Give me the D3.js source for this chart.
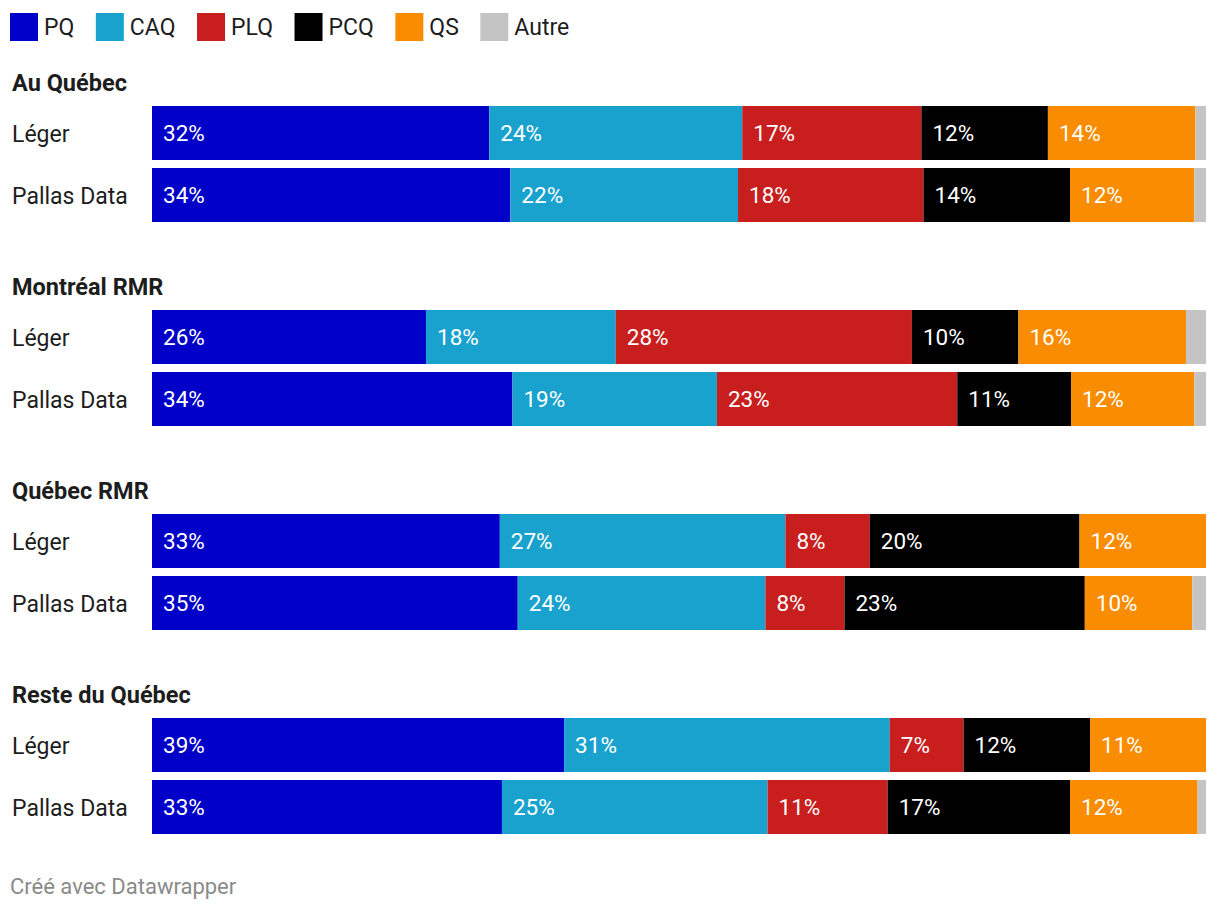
<!DOCTYPE html>
<html><head><meta charset="utf-8">
<script src="https://cdn.jsdelivr.net/npm/d3@7"></script>
<style>
html,body{margin:0;padding:0;background:#fff;}
svg{display:block;font-family:Roboto,"Noto Sans",sans-serif;}
</style></head>
<body><svg id="chart" width="1220" height="912"></svg>
<script>
const parties = ["PQ","CAQ","PLQ","PCQ","QS","Autre"];
const colors = ["#0000c8","#1aa2ce","#c81e1e","#000000","#f98c00","#c4c4c4"];
const groups = ["Au Québec","Montréal RMR","Québec RMR","Reste du Québec"];
const pollsters = ["Léger","Pallas Data"];
// values per group, per pollster: PQ, CAQ, PLQ, PCQ, QS, Autre
const auQuebec   = [[32,24,17,12,14,1],[34,21.6,17.6,13.9,11.8,1.1]];
const montreal   = [[26,18,28.1,10.1,15.9,1.9],[34.2,19.4,22.8,10.8,11.7,1.1]];
const quebecRmr  = [[33,27.1,8,19.9,12,0],[34.7,23.5,7.5,22.8,10.2,1.3]];
const reste      = [[39.1,30.9,7,12,11,0],[33.2,25.2,11.4,17.3,12.1,0.8]];
const groupValues = [auQuebec, montreal, quebecRmr, reste];
const footer = "Créé avec Datawrapper";

function draw() {
  const svg = d3.select("#chart");
  svg.selectAll("*").remove();
  const x = d3.scaleLinear().domain([0,100]).range([152,1206]);
  const gy = d3.scaleBand().domain(groups).range([58, 874]).paddingInner(0).paddingOuter(0);
  const color = d3.scaleOrdinal().domain(parties).range(colors);

  // Legend
  const leg = svg.append("g");
  let lx = 10;
  parties.forEach(p => {
    const g = leg.append("g").attr("transform", `translate(${lx},0)`);
    g.append("rect").attr("x",0).attr("y",13).attr("width",28).attr("height",28).attr("fill",color(p));
    const t = g.append("text").attr("x",34).attr("y",35).attr("font-size",23).attr("fill","#1d1d1d").text(p);
    lx += 34 + t.node().getComputedTextLength() + 21.5;
  });

  groups.forEach((gname, gi) => {
    const g0 = gy(gname);
    const g = svg.append("g").attr("transform", `translate(0,${g0})`);
    g.append("text").attr("x",12).attr("y",32.7).attr("font-size",23.5).attr("font-weight",700)
      .attr("fill","#1d1d1d").text(gname);
    const ry = d3.scaleBand().domain(pollsters).range([48, 164]).paddingInner(8/62).paddingOuter(0);
    pollsters.forEach((pn, pi) => {
      const vals = groupValues[gi][pi];
      const row = g.append("g").attr("transform", `translate(0,${ry(pn)})`);
      const h = ry.bandwidth();
      row.append("text").attr("x",12).attr("y",h/2+9).attr("font-size",23).attr("fill","#1d1d1d").text(pn);
      let cum = 0;
      const segs = vals.map((v,i) => { const s = {p:parties[i], v, x0:cum, x1:cum+v}; cum += v; return s; });
      row.selectAll("rect.seg").data(segs).join("rect").attr("class","seg")
        .attr("x", d => x(d.x0)).attr("y",0).attr("width", d => Math.max(0, x(d.x1)-x(d.x0))).attr("height",h)
        .attr("fill", d => color(d.p));
      row.selectAll("text.val").data(segs.filter(d => x(d.x1)-x(d.x0) > 50)).join("text").attr("class","val")
        .attr("x", d => x(d.x0)+11).attr("y", h/2+7.5).attr("font-size",22.5).attr("fill","#fff")
        .text(d => Math.round(d.v) + "%");
    });
  });

  svg.append("text").attr("x",10).attr("y",894).attr("font-size",22).attr("fill","#8a8a8a").text(footer);
}

draw();
if (document.fonts && document.fonts.load) {
  Promise.all([document.fonts.load("23px Roboto"), document.fonts.load("bold 23px Roboto")])
    .then(() => document.fonts.ready).then(draw).catch(() => {});
}
</script></body></html>
